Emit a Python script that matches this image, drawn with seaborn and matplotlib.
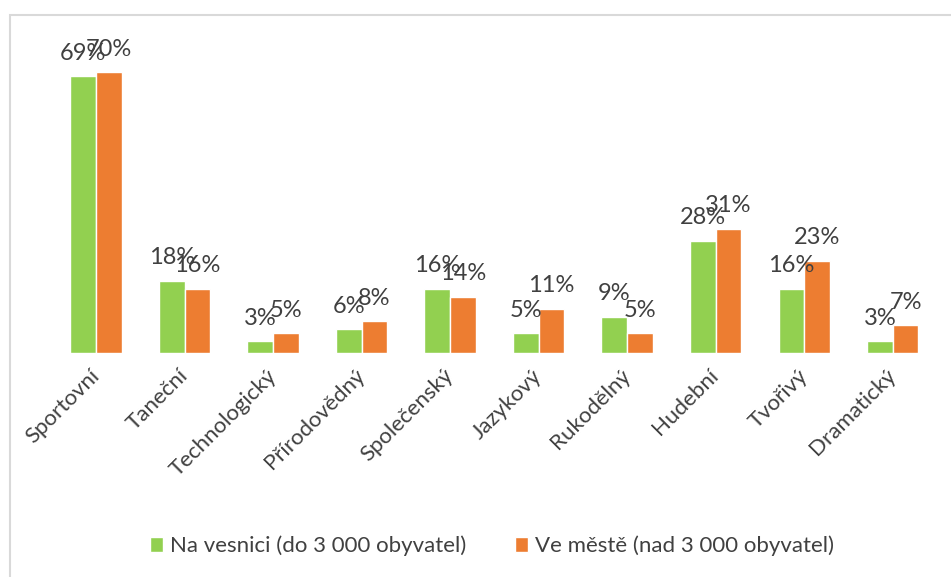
import pandas as pd
import numpy as np
import matplotlib.pyplot as plt
import seaborn as sns
from matplotlib.patches import Rectangle

kategorie = ['Sportovní', 'Taneční', 'Technologický', 'Přírodovědný', 'Společenský',
             'Jazykový', 'Rukodělný', 'Hudební', 'Tvořivý', 'Dramatický']
vesnice = [69, 18, 3, 6, 16, 5, 9, 28, 16, 3]
mesto = [70, 16, 5, 8, 14, 11, 5, 31, 23, 7]
serie = ['Na vesnici (do 3 000 obyvatel)', 'Ve městě (nad 3 000 obyvatel)']
barvy = ['#92D050', '#ED7D31']
text_barva = '#404040'

df = pd.DataFrame({'Kategorie': kategorie * 2,
                   'Hodnota': vesnice + mesto,
                   'Skupina': [serie[0]] * len(kategorie) + [serie[1]] * len(kategorie)})

sns.set_style('white')
plt.rcParams['font.family'] = ['Lato', 'DejaVu Sans']

fig = plt.figure(figsize=(9.51, 5.77), dpi=100)
ax = fig.add_axes([0.0544, 0.388, 0.9309, 0.5219])

sns.barplot(data=df, x='Kategorie', y='Hodnota', hue='Skupina', palette=barvy,
            width=0.58, gap=0, saturation=1, ax=ax, legend=True)

for c in ax.containers:
    ax.bar_label(c, labels=[f'{int(v)}%' for v in c.datavalues], padding=9,
                 fontsize=17, color=text_barva)

ax.set_ylim(0, 75)
ax.set_xlim(-0.5, len(kategorie) - 0.5)
ax.set_xlabel('')
ax.set_ylabel('')
ax.set_yticks([])
sns.despine(ax=ax, left=True, top=True, right=True, bottom=True)
ax.tick_params(axis='x', length=0, pad=14)
for lbl in ax.get_xticklabels():
    lbl.set_rotation(45)
    lbl.set_ha('right')
    lbl.set_va('center')
    lbl.set_rotation_mode('anchor')
    lbl.set_fontsize(16)
    lbl.set_color(text_barva)

ax.legend(loc='center', bbox_to_anchor=(492 / 951, 1 - 546 / 577), bbox_transform=fig.transFigure,
          ncol=2, frameon=False, fontsize=16, handlelength=0.6, handleheight=0.6,
          handletextpad=0.3, columnspacing=2.2, labelcolor=text_barva)

fig.patches.append(Rectangle((9.5 / 951, -0.01), 1.0, 1 - 14.5 / 577 + 0.01,
                             transform=fig.transFigure, fill=False,
                             edgecolor='#D9D9D9', linewidth=1.5))

fig.savefig('out.png', dpi=100)
